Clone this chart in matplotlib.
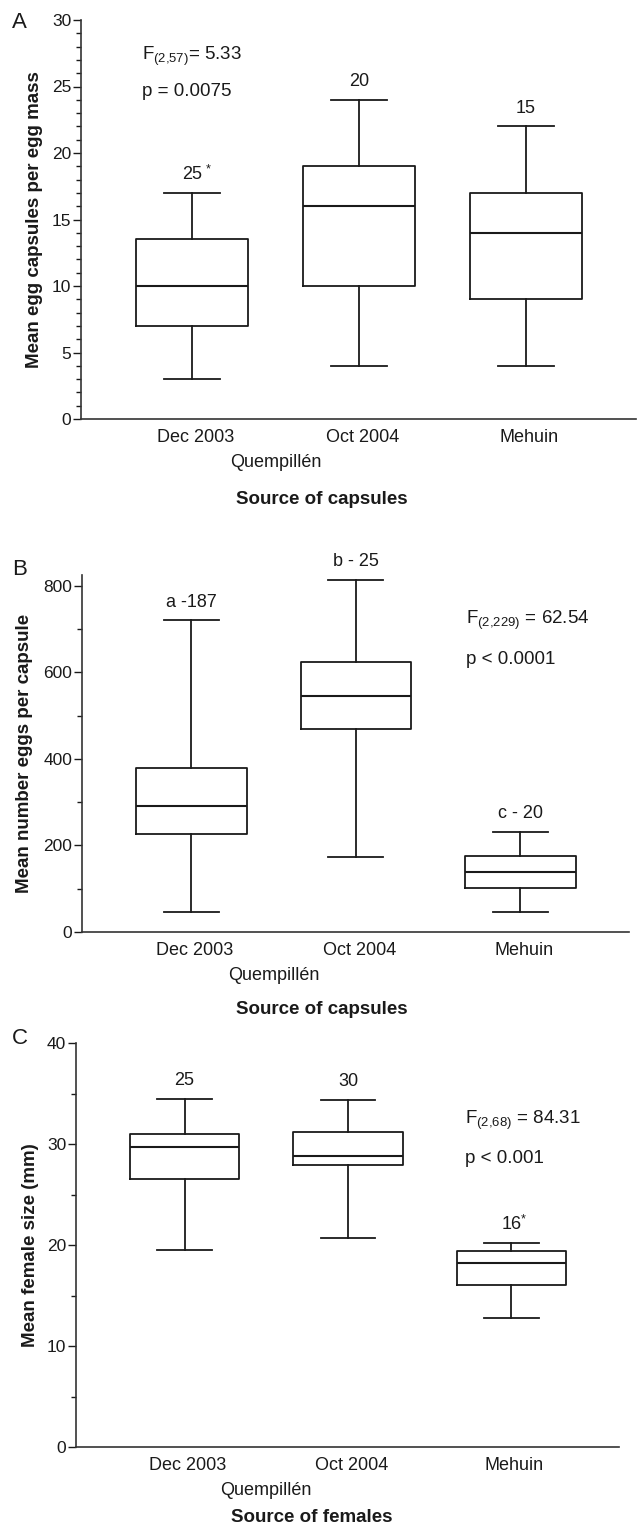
import matplotlib
matplotlib.use('Agg')
import matplotlib.pyplot as plt
from matplotlib.ticker import MultipleLocator

plt.rcParams['font.family'] = ['Liberation Sans', 'DejaVu Sans']
plt.rcParams['mathtext.fontset'] = 'custom'
plt.rcParams['mathtext.rm'] = 'Liberation Sans'
plt.rcParams['mathtext.it'] = 'Liberation Sans:italic'
plt.rcParams['mathtext.bf'] = 'Liberation Sans:bold'

# ---------------- data ----------------
categories = ['Dec 2003', 'Oct 2004', 'Mehuin']
group_label = 'Quempillén'

# Panel A: egg capsules per egg mass
a_whislo = [3, 4, 4]
a_q1 = [7, 10, 9]
a_med = [10, 16, 14]
a_q3 = [13.5, 19, 17]
a_whishi = [17, 24, 22]
a_labels = ['25', '20', '15']
a_star = [True, False, False]

# Panel B: eggs per capsule
b_whislo = [47, 173, 47]
b_q1 = [226, 469, 101]
b_med = [291, 546, 139]
b_q3 = [378, 624, 176]
b_whishi = [720, 814, 231]
b_labels = ['a -187', 'b - 25', 'c - 20']
b_star = [False, False, False]

# Panel C: female size
c_whislo = [19.5, 20.7, 12.8]
c_q1 = [26.5, 27.9, 16.0]
c_med = [29.7, 28.8, 18.2]
c_q3 = [31.0, 31.2, 19.4]
c_whishi = [34.5, 34.4, 20.2]
c_labels = ['25', '30', '16']
c_star = [False, False, True]

INK = '#1a1a1a'
fig = plt.figure(figsize=(6.37, 15.35), dpi=100)
W, H = 637.0, 1535.0


def make_axes(left, right, top, bottom):
    return fig.add_axes([left / W, 1 - bottom / H, (right - left) / W, (bottom - top) / H])


def draw_panel(ax, whislo, q1, med, q3, whishi, labels, stars, ylim, major, minor,
               ylabel, ylabel_x, fstat, pstat, ftxt_xy, ptxt_xy, letter, letter_y,
               star_dx):
    stats = []
    for i in range(len(categories)):
        stats.append(dict(whislo=whislo[i], q1=q1[i], med=med[i], q3=q3[i],
                          whishi=whishi[i], fliers=[]))
    pos = [1, 2, 3]
    lp = dict(color=INK, linewidth=1.3)
    ax.bxp(stats, positions=pos, widths=0.67, showfliers=False, manage_ticks=False,
           boxprops=lp, whiskerprops=lp, capprops=lp,
           medianprops=dict(color=INK, linewidth=1.5))
    ax.set_xlim(0.335, 3.66)
    ax.set_ylim(*ylim)
    ax.yaxis.set_major_locator(MultipleLocator(major))
    ax.yaxis.set_minor_locator(MultipleLocator(minor))
    ax.set_xticks([p + 0.02 for p in pos])
    ax.set_xticklabels(categories, fontsize=13, color=INK)
    ax.tick_params(axis='x', length=0, pad=7)
    ax.tick_params(axis='y', which='major', length=6, width=1.0, pad=1, labelsize=12.5,
                   colors=INK)
    ax.tick_params(axis='y', which='minor', length=3.5, width=1.0, colors=INK)
    for s in ['top', 'right']:
        ax.spines[s].set_visible(False)
    for s in ['left', 'bottom']:
        ax.spines[s].set_color('#333333')
        ax.spines[s].set_linewidth(1.2)
    ax.set_ylabel(ylabel, fontsize=13.5, fontweight='bold', color=INK)
    ax.yaxis.set_label_coords(ylabel_x, 0.5)

    for i, lab in enumerate(labels):
        ax.annotate(lab, xy=(pos[i], whishi[i]), xytext=(0, 13),
                    textcoords='offset points', ha='center', va='center',
                    fontsize=13, color=INK)
        if stars[i]:
            ax.annotate('*', xy=(pos[i], whishi[i]), xytext=(star_dx, 17),
                        textcoords='offset points', ha='left', va='center',
                        fontsize=9, color=INK)

    ax.text(ftxt_xy[0], ftxt_xy[1], fstat, fontsize=13.5, color=INK, ha='left', va='center')
    ax.text(ptxt_xy[0], ptxt_xy[1], pstat, fontsize=13.5, color=INK, ha='left', va='center')

    ax.annotate(group_label, xy=(1.5, 0), xycoords=('data', 'axes fraction'),
                xytext=(0, -31), textcoords='offset points', ha='center', va='center',
                fontsize=13, color=INK)
    fig.text(12 / W, 1 - letter_y / H, letter, fontsize=16, color=INK,
             ha='left', va='center')


axA = make_axes(81, 636, 20, 419)
draw_panel(axA, a_whislo, a_q1, a_med, a_q3, a_whishi, a_labels, a_star,
           (0, 30), 5, 1, 'Mean egg capsules per egg mass', -0.068,
           r'F$_{\mathrm{(2{,}57)}}$= 5.33', 'p = 0.0075', (0.70, 27.3), (0.70, 24.6),
           'A', 22, 10)
fig.text(0.505, 1 - 500 / H, 'Source of capsules', fontsize=13.5, fontweight='bold',
         ha='center', va='center', color=INK)

axB = make_axes(82, 629, 575, 932)
draw_panel(axB, b_whislo, b_q1, b_med, b_q3, b_whishi, b_labels, b_star,
           (0, 825), 200, 100, 'Mean number eggs per capsule', -0.09,
           r'F$_{\mathrm{(2{,}229)}}$ = 62.54', 'p < 0.0001', (2.67, 721), (2.67, 629),
           'B', 570, 10)
fig.text(0.505, 1 - 1010 / H, 'Source of capsules', fontsize=13.5, fontweight='bold',
         ha='center', va='center', color=INK)

axC = make_axes(76, 619, 1043, 1447)
draw_panel(axC, c_whislo, c_q1, c_med, c_q3, c_whishi, c_labels, c_star,
           (0, 40), 10, 5, 'Mean female size (mm)', -0.068,
           r'F$_{\mathrm{(2{,}68)}}$ = 84.31', 'p < 0.001', (2.72, 32.3), (2.72, 28.6),
           'C', 1039, 7)
fig.text(0.49, 1 - 1518 / H, 'Source of females', fontsize=13.5, fontweight='bold',
         ha='center', va='center', color=INK)

fig.savefig('out.png', dpi=100)
